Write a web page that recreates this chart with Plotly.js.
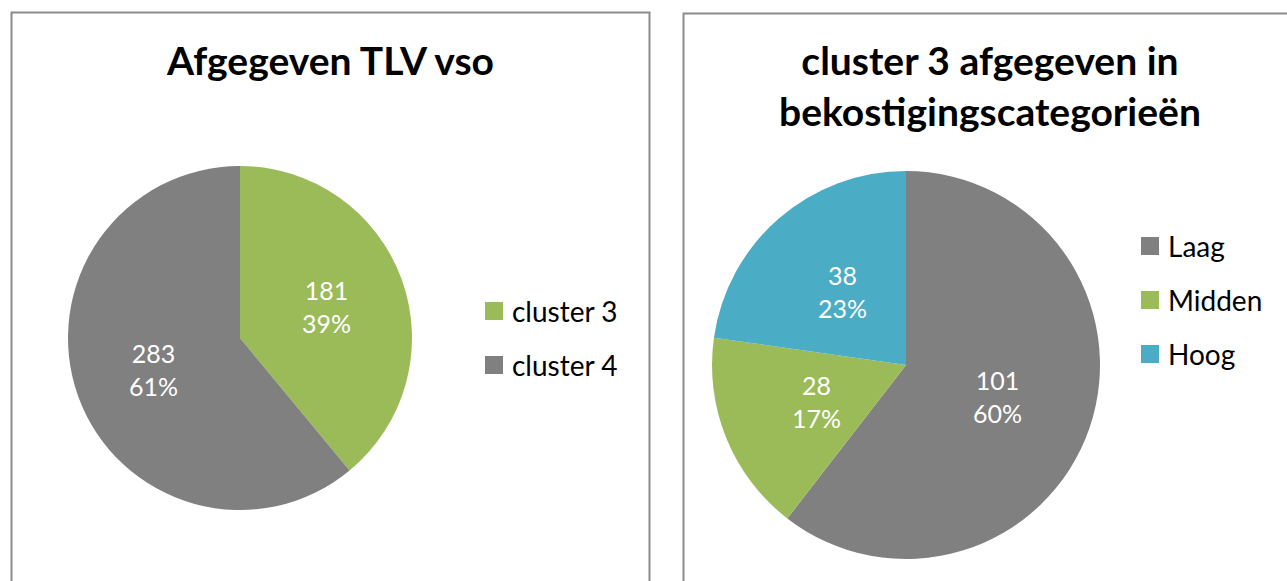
<!DOCTYPE html>
<html>
<head>
<meta charset="utf-8">
<script src="https://cdn.plot.ly/plotly-3.0.1.min.js"></script>
<style>html,body{margin:0;padding:0;background:#fff;}#chart{width:1287px;height:581px;}</style>
</head>
<body>
<div id="chart"></div>
<script>
// Data
const leftTitle = "Afgegeven TLV vso";
const leftLabels = ["cluster 3", "cluster 4"];
const leftValues = [181, 283];
const leftColors = ["#9BBB59", "#808080"];

const rightTitle = "cluster 3 afgegeven in<br>bekostigingscategorieën";
const rightLabels = ["Laag", "Midden", "Hoog"];
const rightValues = [101, 28, 38];
const rightColors = ["#808080", "#9BBB59", "#4BACC6"];

const W = 1287, H = 581;
const px = v => v / W;
const py = v => 1 - v / H;
const FONT = "Lato, 'Open Sans', sans-serif";

// pie geometry (pixels)
const pies = [
  {labels: leftLabels, values: leftValues, colors: leftColors, cx: 240, cy: 338, r: 172, lr: 0.535,
   legX: 485, legY: 311, title: leftTitle, titleX: 330, titleY: 60},
  {labels: rightLabels, values: rightValues, colors: rightColors, cx: 906, cy: 365, r: 194, lr: 0.50,
   legX: 1141, legY: 246, title: rightTitle, titleX: 990, titleY: 85}
];

const traces = [];
const shapes = [
  {type: "rect", xref: "paper", yref: "paper", x0: px(11.5), x1: px(649.5), y0: py(600), y1: py(12.5),
   line: {color: "#8C8C8C", width: 2}, fillcolor: "rgba(0,0,0,0)"},
  {type: "rect", xref: "paper", yref: "paper", x0: px(683.5), x1: px(1300), y0: py(600), y1: py(13.5),
   line: {color: "#8C8C8C", width: 2}, fillcolor: "rgba(0,0,0,0)"}
];
const annotations = [];

pies.forEach(p => {
  traces.push({
    type: "pie", labels: p.labels, values: p.values,
    marker: {colors: p.colors, line: {width: 0}},
    sort: false, direction: "clockwise", rotation: 0,
    domain: {x: [px(p.cx - p.r), px(p.cx + p.r)], y: [py(p.cy + p.r), py(p.cy - p.r)]},
    textinfo: "none", hoverinfo: "label+value+percent", showlegend: false
  });
  annotations.push({text: "<b>" + p.title + "</b>", xref: "paper", yref: "paper",
    x: px(p.titleX), y: py(p.titleY), xanchor: "center", yanchor: "middle", showarrow: false,
    font: {size: 39, family: FONT, color: "#000"}});
  const total = p.values.reduce((a, b) => a + b, 0);
  let cum = 0;
  p.values.forEach((v, i) => {
    const mid = (cum + v / 2) / total * 2 * Math.PI;
    cum += v;
    const lx = p.cx + Math.sin(mid) * p.r * p.lr;
    const ly = p.cy - Math.cos(mid) * p.r * p.lr;
    annotations.push({text: v + "<br>" + Math.round(v / total * 100) + "%", xref: "paper", yref: "paper",
      x: px(lx), y: py(ly), xanchor: "center", yanchor: "middle", showarrow: false, align: "center",
      font: {size: 25, family: FONT, color: "#ffffff"}});
    // legend entry
    const ey = p.legY + i * 54;
    shapes.push({type: "rect", xref: "paper", yref: "paper", x0: px(p.legX), x1: px(p.legX + 18),
      y0: py(ey + 9), y1: py(ey - 9), line: {width: 0}, fillcolor: p.colors[i]});
    annotations.push({text: p.labels[i], xref: "paper", yref: "paper", x: px(p.legX + 25), y: py(ey),
      xanchor: "left", yanchor: "middle", showarrow: false, font: {size: 28, family: FONT, color: "#000"}});
  });
});

const layout = {
  width: W, height: H,
  margin: {l: 0, r: 0, t: 0, b: 0},
  paper_bgcolor: "#ffffff",
  font: {family: FONT, color: "#000000"},
  showlegend: false,
  shapes: shapes,
  annotations: annotations
};

Plotly.newPlot("chart", traces, layout, {displayModeBar: false, staticPlot: true});
</script>
</body>
</html>
